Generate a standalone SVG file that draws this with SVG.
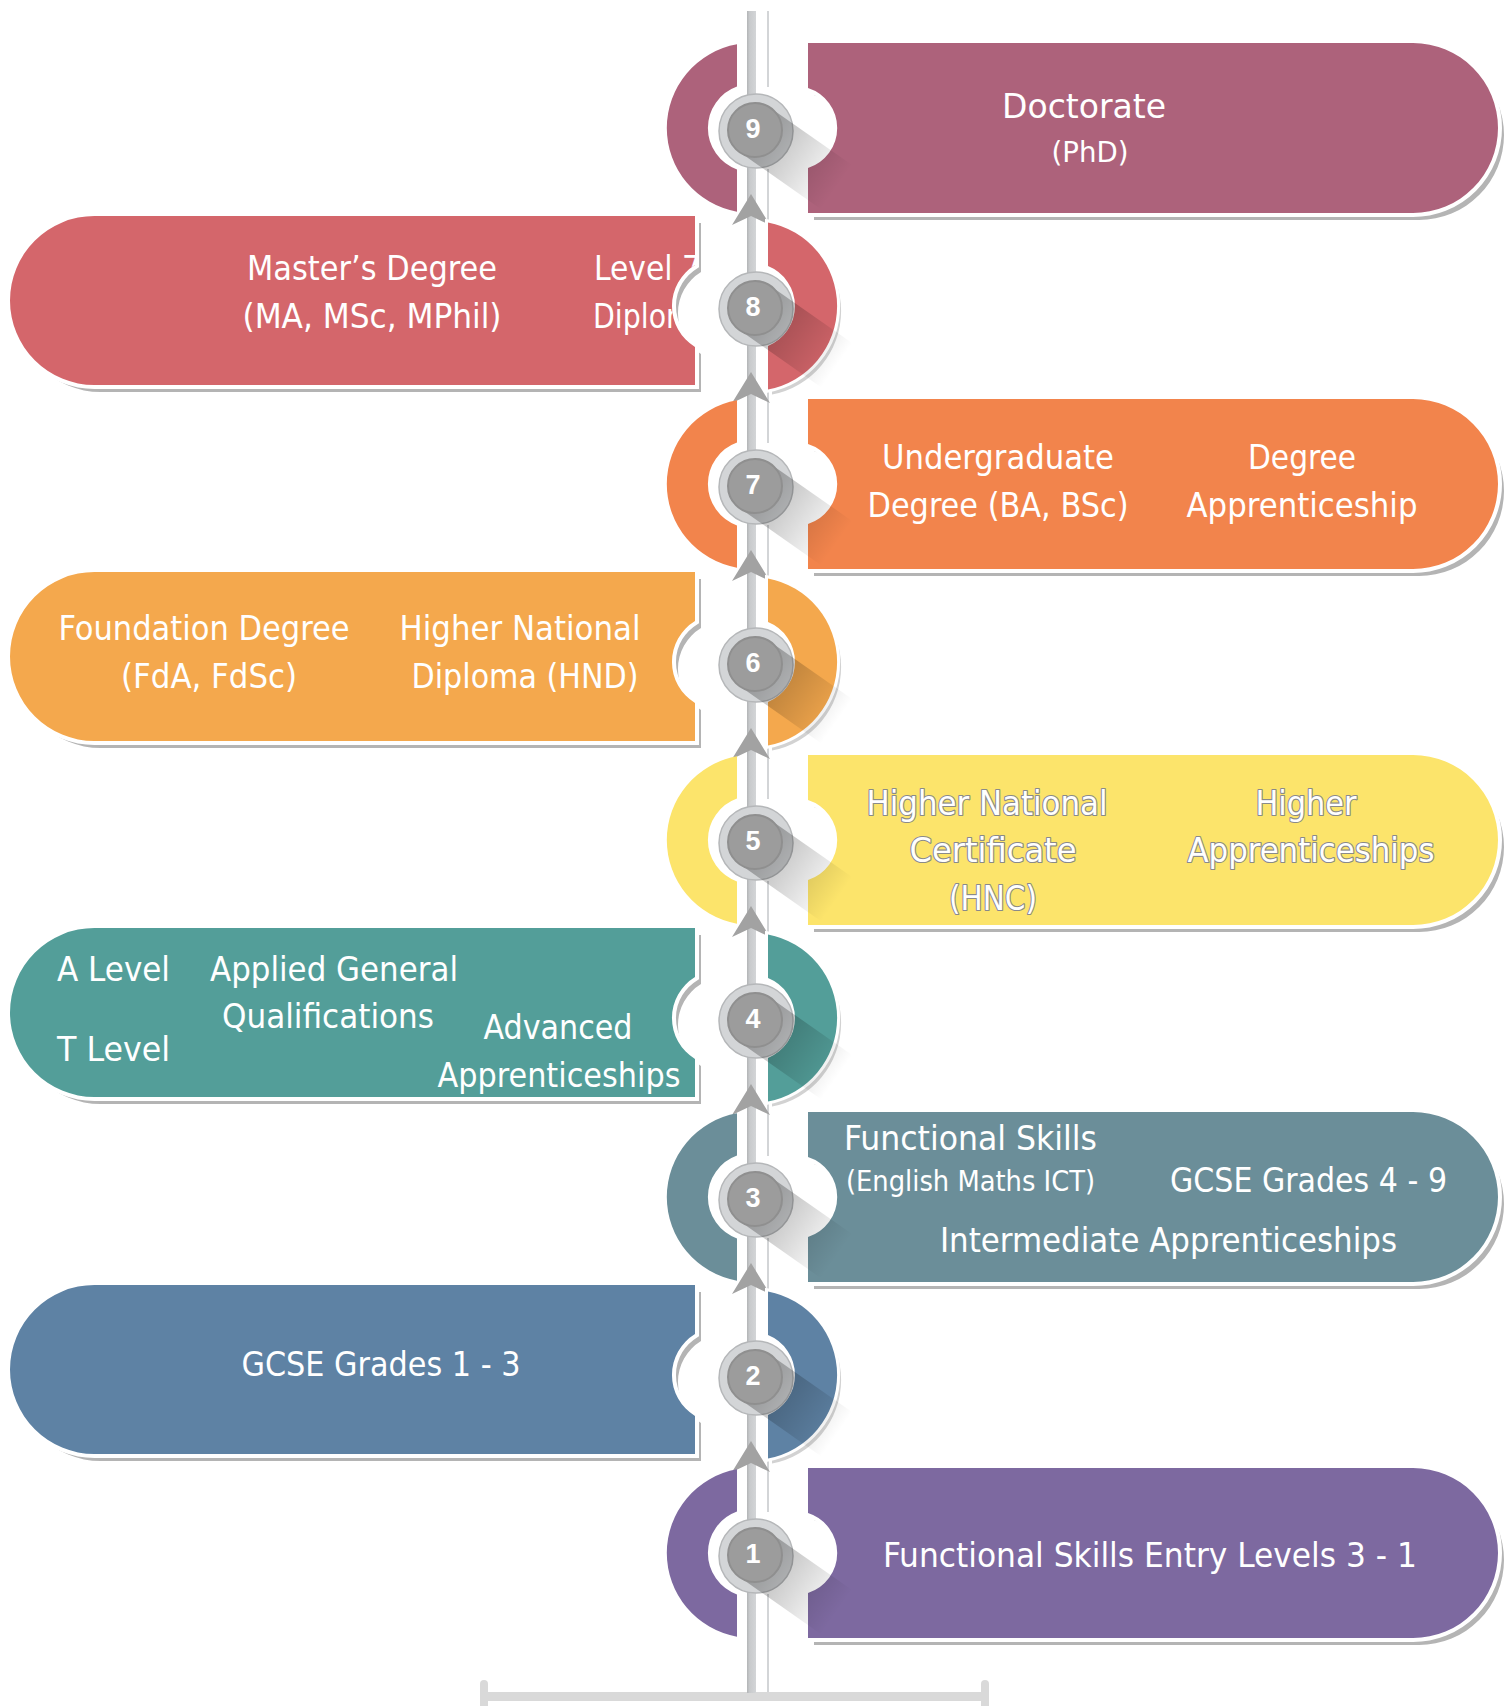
<svg xmlns="http://www.w3.org/2000/svg" width="1507" height="1706" viewBox="0 0 1507 1706">
<defs>
<style>
.t{font-family:'DejaVu Sans Condensed','DejaVu Sans',sans-serif;font-stretch:condensed;font-size:34px;fill:#fff;text-anchor:middle}
.l{text-anchor:start}
.s{font-size:29px}
.o{stroke:#8a8a8a;stroke-width:2.2px;paint-order:stroke;stroke-linejoin:round}
.n{font-family:'Liberation Sans',Arial,sans-serif;font-weight:bold;font-size:27px;fill:#fff;text-anchor:middle}
.sh{fill:#b4b4b4}
.shd{fill:#d2d2d2}
.m{stroke:#fff;stroke-width:8px;paint-order:stroke}
.md{stroke:#fff;stroke-width:6px;paint-order:stroke}
</style>
<path id="rr" d="M808,-85 H1413 A85,85 0 0 1 1413,85 H808 V40 A42,42 0 0 0 808,-40 Z"/>
<path id="ld" d="M737,-83.7 A85,85 0 0 0 737,83.7 V41.4 A44,44 0 0 1 737,-41.4 Z"/>
<path id="lr" d="M94.5,-90 H695 V-41 A48,48 0 0 0 695,41 V79 H94.5 A84.5,84.5 0 0 1 94.5,-90 Z"/>
<path id="rd" d="M768,-83.5 A85,85 0 0 1 768,83.5 V39.9 A43,43 0 0 0 768,-39.9 Z"/>
<linearGradient id="ls" x1="0" y1="0" x2="1" y2="0">
<stop offset="0" stop-color="#000" stop-opacity="0.3"/>
<stop offset="1" stop-color="#000" stop-opacity="0"/>
</linearGradient>
<linearGradient id="sp" x1="0" y1="0" x2="1" y2="0">
<stop offset="0" stop-color="#b2b4b6"/>
<stop offset="0.3" stop-color="#c8cacc"/>
<stop offset="1" stop-color="#d3d5d7"/>
</linearGradient>
<g id="badge">
<circle cx="756" cy="3" r="37" fill="#d3d5d7" stroke="#b5b7b9" stroke-width="1.5"/>
<rect x="0" y="-27" width="100" height="54" fill="url(#ls)" transform="translate(755,2) rotate(35)"/>
<circle cx="755" cy="2" r="27" fill="#9c9c9c" stroke="#8f8f8f" stroke-width="2"/>
</g>
<clipPath id="c8"><use href="#lr" transform="translate(0,306)"/></clipPath>
</defs>
<rect width="1507" height="1706" fill="#fff"/>

<g id="connectors">
<path d="M768,11 V87 M768,169 V265 M768,347 V443 M768,525 V621 M768,703 V799 M768,881 V977 M768,1059 V1156 M768,1238 V1334 M768,1416 V1512 M768,1594 V1692" stroke="#d3d5d7" stroke-width="2" fill="none"/>
<rect x="480" y="1692" width="509" height="9" fill="#d9d9d9"/>
<rect x="480" y="1680" width="8" height="30" rx="4" fill="#d9d9d9"/>
<rect x="981" y="1680" width="8" height="30" rx="4" fill="#d9d9d9"/>
<rect x="747" y="11" width="9" height="1682" fill="url(#sp)"/>
<g fill="#a2a2a2">
<polygon points="751,194 770,225 751,216 732,225"/>
<polygon points="751,372 770,403 751,394 732,403"/>
<polygon points="751,550 770,581 751,572 732,581"/>
<polygon points="751,728 770,759 751,750 732,759"/>
<polygon points="751,906 770,937 751,928 732,937"/>
<polygon points="751,1084 770,1115 751,1106 732,1115"/>
<polygon points="751,1263 770,1294 751,1285 732,1294"/>
<polygon points="751,1441 770,1472 751,1463 732,1472"/>
</g>
</g>

<g id="node-9">
<use href="#ld" transform="translate(0,128)" fill="#AD627B"/>
<use href="#rr" class="sh" transform="translate(6,135)"/>
<use href="#rr" class="m" transform="translate(0,128)" fill="#AD627B"/>
<text class="t" x="1084" y="118" textLength="164" lengthAdjust="spacingAndGlyphs">Doctorate</text>
<text class="t s" x="1090" y="162" textLength="77" lengthAdjust="spacingAndGlyphs">(PhD)</text>
<use href="#badge" transform="translate(0,128)"/>
<text class="n" x="753" y="138">9</text>
</g>

<g id="node-8">
<use href="#lr" class="sh" transform="translate(6,313)"/>
<use href="#lr" class="m" transform="translate(0,306)" fill="#D4666B"/>
<use href="#rd" class="shd" transform="translate(4,311)"/>
<use href="#rd" class="md" transform="translate(0,306)" fill="#D4666B"/>
<text class="t" x="372" y="280" textLength="250" lengthAdjust="spacingAndGlyphs">Master’s Degree</text>
<text class="t" x="372" y="328" textLength="259" lengthAdjust="spacingAndGlyphs">(MA, MSc, MPhil)</text>
<g clip-path="url(#c8)">
<text class="t l" x="594" y="280" textLength="107" lengthAdjust="spacingAndGlyphs">Level 7</text>
<text class="t l" x="593" y="328" textLength="118" lengthAdjust="spacingAndGlyphs">Diploma</text>
</g>
<use href="#badge" transform="translate(0,306)"/>
<text class="n" x="753" y="316">8</text>
</g>

<g id="node-7">
<use href="#ld" transform="translate(0,484)" fill="#F2844C"/>
<use href="#rr" class="sh" transform="translate(6,491)"/>
<use href="#rr" class="m" transform="translate(0,484)" fill="#F2844C"/>
<text class="t" x="998" y="469" textLength="232" lengthAdjust="spacingAndGlyphs">Undergraduate</text>
<text class="t" x="998" y="517" textLength="261" lengthAdjust="spacingAndGlyphs">Degree (BA, BSc)</text>
<text class="t" x="1302" y="469" textLength="108" lengthAdjust="spacingAndGlyphs">Degree</text>
<text class="t" x="1302" y="517" textLength="231" lengthAdjust="spacingAndGlyphs">Apprenticeship</text>
<use href="#badge" transform="translate(0,484)"/>
<text class="n" x="753" y="494">7</text>
</g>

<g id="node-6">
<use href="#lr" class="sh" transform="translate(6,669)"/>
<use href="#lr" class="m" transform="translate(0,662)" fill="#F4A84D"/>
<use href="#rd" class="shd" transform="translate(4,667)"/>
<use href="#rd" class="md" transform="translate(0,662)" fill="#F4A84D"/>
<text class="t" x="204" y="640" textLength="291" lengthAdjust="spacingAndGlyphs">Foundation Degree</text>
<text class="t" x="209" y="688" textLength="176" lengthAdjust="spacingAndGlyphs">(FdA, FdSc)</text>
<text class="t" x="520" y="640" textLength="241" lengthAdjust="spacingAndGlyphs">Higher National</text>
<text class="t" x="525" y="688" textLength="227" lengthAdjust="spacingAndGlyphs">Diploma (HND)</text>
<use href="#badge" transform="translate(0,662)"/>
<text class="n" x="753" y="672">6</text>
</g>

<g id="node-5">
<use href="#ld" transform="translate(0,840)" fill="#FCE46B"/>
<use href="#rr" class="sh" transform="translate(6,847)"/>
<use href="#rr" class="m" transform="translate(0,840)" fill="#FCE46B"/>
<text class="t o" x="987" y="815" textLength="241" lengthAdjust="spacingAndGlyphs">Higher National</text>
<text class="t o" x="993" y="862" textLength="167" lengthAdjust="spacingAndGlyphs">Certificate</text>
<text class="t o" x="993" y="910" textLength="88" lengthAdjust="spacingAndGlyphs">(HNC)</text>
<text class="t o" x="1306" y="815" textLength="101" lengthAdjust="spacingAndGlyphs">Higher</text>
<text class="t o" x="1311" y="862" textLength="247" lengthAdjust="spacingAndGlyphs">Apprenticeships</text>
<use href="#badge" transform="translate(0,840)"/>
<text class="n" x="753" y="850">5</text>
</g>

<g id="node-4">
<use href="#lr" class="sh" transform="translate(6,1025)"/>
<use href="#lr" class="m" transform="translate(0,1018)" fill="#539E99"/>
<use href="#rd" class="shd" transform="translate(4,1023)"/>
<use href="#rd" class="md" transform="translate(0,1018)" fill="#539E99"/>
<text class="t l" x="57" y="981" textLength="113" lengthAdjust="spacingAndGlyphs">A Level</text>
<text class="t l" x="57" y="1061" textLength="113" lengthAdjust="spacingAndGlyphs">T Level</text>
<text class="t" x="334" y="981" textLength="248" lengthAdjust="spacingAndGlyphs">Applied General</text>
<text class="t" x="328" y="1028" textLength="212" lengthAdjust="spacingAndGlyphs">Qualifications</text>
<text class="t" x="558" y="1039" textLength="149" lengthAdjust="spacingAndGlyphs">Advanced</text>
<text class="t" x="559" y="1087" textLength="243" lengthAdjust="spacingAndGlyphs">Apprenticeships</text>
<use href="#badge" transform="translate(0,1018)"/>
<text class="n" x="753" y="1028">4</text>
</g>

<g id="node-3">
<use href="#ld" transform="translate(0,1197)" fill="#6B8E99"/>
<use href="#rr" class="sh" transform="translate(6,1204)"/>
<use href="#rr" class="m" transform="translate(0,1197)" fill="#6B8E99"/>
<text class="t l" x="844" y="1150" textLength="253" lengthAdjust="spacingAndGlyphs">Functional Skills</text>
<text class="t l" x="846" y="1191" style="font-size:28px" textLength="249" lengthAdjust="spacingAndGlyphs">(English Maths ICT)</text>
<text class="t l" x="1170" y="1192" textLength="277" lengthAdjust="spacingAndGlyphs">GCSE Grades 4 - 9</text>
<text class="t l" x="940" y="1252" textLength="457" lengthAdjust="spacingAndGlyphs">Intermediate Apprenticeships</text>
<use href="#badge" transform="translate(0,1197)"/>
<text class="n" x="753" y="1207">3</text>
</g>

<g id="node-2">
<use href="#lr" class="sh" transform="translate(6,1382)"/>
<use href="#lr" class="m" transform="translate(0,1375)" fill="#5E82A4"/>
<use href="#rd" class="shd" transform="translate(4,1380)"/>
<use href="#rd" class="md" transform="translate(0,1375)" fill="#5E82A4"/>
<text class="t" x="381" y="1376" textLength="279" lengthAdjust="spacingAndGlyphs">GCSE Grades 1 - 3</text>
<use href="#badge" transform="translate(0,1375)"/>
<text class="n" x="753" y="1385">2</text>
</g>

<g id="node-1">
<use href="#ld" transform="translate(0,1553)" fill="#7D69A0"/>
<use href="#rr" class="sh" transform="translate(6,1560)"/>
<use href="#rr" class="m" transform="translate(0,1553)" fill="#7D69A0"/>
<text class="t l" x="883" y="1567" textLength="534" lengthAdjust="spacingAndGlyphs">Functional Skills Entry Levels 3 - 1</text>
<use href="#badge" transform="translate(0,1553)"/>
<text class="n" x="753" y="1563">1</text>
</g>
</svg>
